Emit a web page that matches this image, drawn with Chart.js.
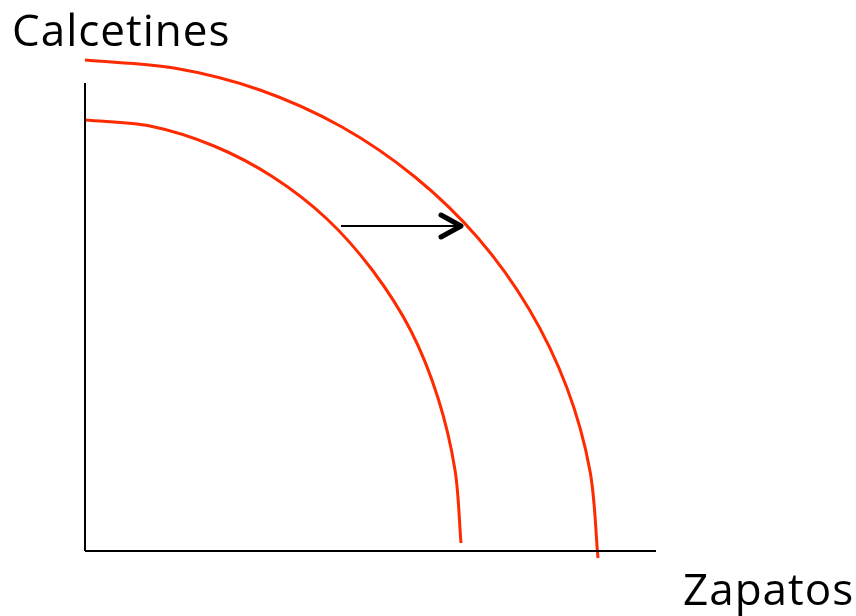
<!DOCTYPE html>
<html>
<head>
<meta charset="utf-8">
<script src="https://cdn.jsdelivr.net/npm/chart.js@4"></script>
<style>
  html, body { margin: 0; padding: 0; background: #fff; }
  #wrap { width: 856px; height: 616px; position: relative; }
</style>
</head>
<body>
<div id="wrap"><canvas id="ppf"></canvas></div>
<script>
// Frontera de posibilidades de produccion
const yLabel = 'Calcetines';
const xLabel = 'Zapatos';

const innerX = [0, 65, 129, 188, 242, 288, 326, 353, 370, 376];
const innerY = [431, 425, 405, 374, 332, 280, 220, 153, 81, 8];

const outerX = [0, 89, 175, 257, 330, 393, 444, 482, 505, 513];
const outerY = [491, 483, 461, 424, 374, 313, 242, 163, 80, -7];

const axisMaxX = 571;
const axisMaxY = 468;

// flecha de desplazamiento
const arrowX = [256, 376];
const arrowY = [325, 325];
const headX = [356, 376, 356];
const headY = [336, 325, 314];

const pts = (xs, ys) => xs.map((x, i) => ({ x: x, y: ys[i] }));

const labelsPlugin = {
    id: 'axisLabels',
    afterDraw(chart) {
        const ctx = chart.ctx;
        ctx.save();
        ctx.fillStyle = '#000';
        ctx.font = '44px "Open Sans"';
        ctx.letterSpacing = '1px';
        ctx.textBaseline = 'alphabetic';
        ctx.textAlign = 'left';
        ctx.fillText(yLabel, 12, 46);
        ctx.fillText(xLabel, 683, 605);
        ctx.restore();
    }
};

const red = '#FF2A00';

new Chart(document.getElementById('ppf'), {
    type: 'line',
    data: {
        datasets: [
            { data: pts([0, axisMaxX], [0, 0]), borderColor: '#000', borderWidth: 2 },
            { data: pts([0, 0], [0, axisMaxY]), borderColor: '#000', borderWidth: 2 },
            { data: pts(innerX, innerY), borderColor: red, borderWidth: 3, tension: 0.33 },
            { data: pts(outerX, outerY), borderColor: red, borderWidth: 3, tension: 0.33 },
            { data: pts(arrowX, arrowY), borderColor: '#000', borderWidth: 2 },
            { data: pts(headX, headY), borderColor: '#000', borderWidth: 5,
              borderCapStyle: 'round', borderJoinStyle: 'round' }
        ]
    },
    options: {
        responsive: true,
        maintainAspectRatio: false,
        animation: false,
        elements: {
            line: { capBezierPoints: false, fill: false },
            point: { radius: 0, hoverRadius: 0 }
        },
        datasets: {
            line: { clip: false }
        },
        layout: { padding: { left: 85, right: 200, top: 83, bottom: 65 } },
        scales: {
            x: { type: 'linear', min: 0, max: axisMaxX, display: false },
            y: { type: 'linear', min: 0, max: axisMaxY, display: false }
        },
        plugins: {
            legend: { display: false },
            tooltip: { enabled: false }
        }
    },
    plugins: [labelsPlugin]
});
</script>
</body>
</html>
